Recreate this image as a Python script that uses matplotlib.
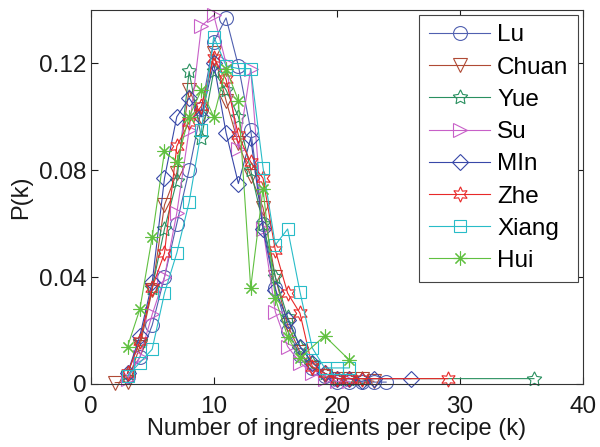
import matplotlib
matplotlib.use("Agg")
import matplotlib.pyplot as plt
import numpy as np

plt.rcParams['font.family'] = ['Liberation Sans', 'DejaVu Sans']

# values
lu_k = [3, 4, 5, 6, 7, 8, 9, 10, 11, 12, 13, 14, 15, 16, 17, 18, 19, 20, 21, 22, 23, 24]
lu_p = [0.003, 0.010, 0.022, 0.040, 0.060, 0.080, 0.103, 0.128, 0.137, 0.119, 0.095,
        0.060, 0.036, 0.020, 0.011, 0.006, 0.003, 0.0007, 0.0007, 0.0007, 0.0007, 0.0007]

chuan_k = [2, 3, 4, 5, 6, 7, 8, 9, 10, 11, 12, 13, 14, 15, 16, 17, 18, 19, 20, 21, 22, 23]
chuan_p = [0.0005, 0.0007, 0.014, 0.035, 0.067, 0.079, 0.110, 0.100, 0.124, 0.106, 0.090,
           0.078, 0.066, 0.040, 0.022, 0.012, 0.006, 0.003, 0.002, 0.002, 0.002, 0.001]

yue_k = [3, 4, 5, 6, 7, 8, 9, 10, 11, 12, 13, 14, 15, 16, 17, 18, 19, 20, 21, 22, 36]
yue_p = [0.004, 0.016, 0.036, 0.058, 0.076, 0.117, 0.092, 0.117, 0.110, 0.100, 0.080,
         0.060, 0.040, 0.025, 0.014, 0.008, 0.004, 0.002, 0.002, 0.002, 0.002]

su_k = [3, 4, 5, 6, 7, 8, 9, 10, 11, 12, 13, 14, 15, 16, 17, 18, 19, 20, 21]
su_p = [0.002, 0.010, 0.026, 0.040, 0.064, 0.095, 0.134, 0.138, 0.120, 0.088, 0.118,
        0.058, 0.027, 0.014, 0.008, 0.004, 0.002, 0.001, 0.001]

min_k = [3, 4, 5, 6, 7, 8, 9, 10, 11, 12, 13, 14, 15, 16, 17, 18, 19, 20, 21, 22, 23, 26]
min_p = [0.004, 0.018, 0.038, 0.077, 0.100, 0.107, 0.100, 0.120, 0.094, 0.075, 0.092,
         0.058, 0.035, 0.024, 0.014, 0.008, 0.004, 0.002, 0.002, 0.001, 0.002, 0.002]

zhe_k = [3, 4, 5, 6, 7, 8, 9, 10, 11, 12, 13, 14, 15, 16, 17, 18, 19, 20, 21, 22, 29]
zhe_p = [0.004, 0.016, 0.036, 0.049, 0.089, 0.098, 0.104, 0.122, 0.114, 0.093, 0.083,
         0.077, 0.050, 0.034, 0.0265, 0.0065, 0.004, 0.002, 0.002, 0.002, 0.002]

xiang_k = [3, 4, 5, 6, 7, 8, 9, 10, 11, 12, 13, 14, 15, 16, 17, 18, 19, 20, 21]
xiang_p = [0.003, 0.008, 0.013, 0.034, 0.049, 0.068, 0.095, 0.130, 0.119, 0.118, 0.118,
           0.081, 0.052, 0.058, 0.0345, 0.0135, 0.006, 0.006, 0.006]

hui_k = [3, 4, 5, 6, 7, 8, 9, 10, 11, 12, 13, 14, 15, 16, 17, 19, 21]
hui_p = [0.014, 0.028, 0.055, 0.087, 0.083, 0.100, 0.110, 0.100, 0.118, 0.106, 0.036,
         0.073, 0.032, 0.0177, 0.0097, 0.018, 0.009]

names = ['Lu', 'Chuan', 'Yue', 'Su', 'MIn', 'Zhe', 'Xiang', 'Hui']
series = [(lu_k, lu_p), (chuan_k, chuan_p), (yue_k, yue_p), (su_k, su_p),
          (min_k, min_p), (zhe_k, zhe_p), (xiang_k, xiang_p), (hui_k, hui_p)]
colors = ['#5060b0', '#b04a35', '#2a9060', '#c860c8', '#3848a8', '#e82828', '#28bcc8', '#60c040']
markers = ['o', 'v', (5, 1, 0), '>', 'D', (6, 1, 0), 's', (8, 2, 0)]
msizes = [10, 10, 11, 10, 8, 11, 8.5, 10]

fig = plt.figure(figsize=(6, 4.47), dpi=100)
ax = fig.add_axes([0.151, 0.141, 0.821, 0.837])

for (k, p), name, c, m, ms in zip(series, names, colors, markers, msizes):
    ax.plot(k, p, color=c, marker=m, markersize=ms, markerfacecolor='none',
            markeredgecolor=c, markeredgewidth=0.8, linewidth=0.8, label=name,
            clip_on=False)

ax.set_xlim(0, 40)
ax.set_ylim(0, 0.14)
ax.set_xticks([0, 10, 20, 30, 40])
ax.set_yticks([0, 0.04, 0.08, 0.12])
ax.set_yticklabels(['0', '0.04', '0.08', '0.12'])
ax.tick_params(direction='in', length=5, width=0.8, top=True, right=True,
               labelsize=17.5, colors='#1a1a1a', pad=3)
ax.tick_params(axis='x', pad=9)
for s in ax.spines.values():
    s.set_linewidth(0.8)
    s.set_color('#333333')

ax.set_xlabel('Number of ingredients per recipe (k)', fontsize=17, color='#1a1a1a', labelpad=0)
ax.set_ylabel('P(k)', fontsize=17, color='#1a1a1a', labelpad=5)

leg = ax.legend(loc='upper right', fontsize=17.5, handlelength=2.5, handletextpad=0.3,
                labelspacing=0.42, borderpad=0.4, fancybox=False, framealpha=1,
                edgecolor='#444444', borderaxespad=0.2)
leg.get_frame().set_linewidth(0.8)

fig.savefig('out.png', dpi=100)
